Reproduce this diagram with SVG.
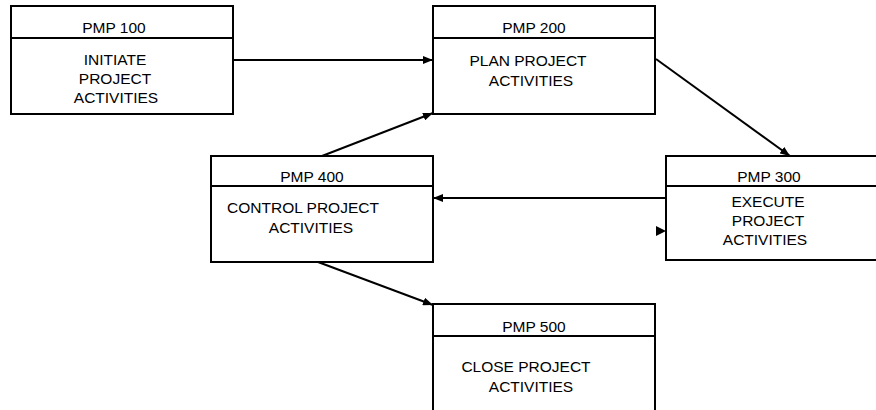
<svg xmlns="http://www.w3.org/2000/svg" width="876" height="410" viewBox="0 0 876 410">
<style>
.box{fill:#fff;stroke:#000;stroke-width:2}
.div{stroke:#000;stroke-width:2}
.t{font-family:"Liberation Sans",Arial,sans-serif;font-size:15.5px;fill:#000;text-anchor:middle}
.c{stroke:#000;stroke-width:2;fill:none}
</style>
<defs>
<marker id="ah" viewBox="0 0 10 8" refX="10" refY="4" markerWidth="10" markerHeight="8" markerUnits="userSpaceOnUse" orient="auto">
<path d="M0,0 L10,4 L0,8 Z" fill="#000"/>
</marker>
</defs>
<rect width="876" height="410" fill="#fff"/>
<g id="pmp100">
<rect class="box" x="11" y="6" width="222" height="108"/>
<line class="div" x1="11" y1="38" x2="233" y2="38"/>
<text class="t" x="114" y="33">PMP 100</text>
<text class="t" x="115" y="65">INITIATE</text>
<text class="t" x="115" y="84">PROJECT</text>
<text class="t" x="116" y="103">ACTIVITIES</text>
</g>
<g id="pmp200">
<rect class="box" x="433" y="6" width="222" height="108"/>
<line class="div" x1="433" y1="38" x2="655" y2="38"/>
<text class="t" x="534" y="33">PMP 200</text>
<text class="t" x="528" y="66">PLAN PROJECT</text>
<text class="t" x="531" y="86">ACTIVITIES</text>
</g>
<g id="pmp300">
<rect class="box" x="666" y="156" width="222" height="104"/>
<line class="div" x1="666" y1="186" x2="888" y2="186"/>
<text class="t" x="769" y="182">PMP 300</text>
<text class="t" x="768" y="207">EXECUTE</text>
<text class="t" x="768" y="226">PROJECT</text>
<text class="t" x="765" y="245">ACTIVITIES</text>
</g>
<g id="pmp400">
<rect class="box" x="211" y="156" width="222" height="106"/>
<line class="div" x1="211" y1="186" x2="433" y2="186"/>
<text class="t" x="312" y="182">PMP 400</text>
<text class="t" x="303" y="213">CONTROL PROJECT</text>
<text class="t" x="311" y="233">ACTIVITIES</text>
</g>
<g id="pmp500">
<rect class="box" x="433" y="304" width="222" height="120"/>
<line class="div" x1="433" y1="336" x2="655" y2="336"/>
<text class="t" x="534" y="332">PMP 500</text>
<text class="t" x="526" y="372">CLOSE PROJECT</text>
<text class="t" x="531" y="392">ACTIVITIES</text>
</g>
<g id="connectors">
<line class="c" x1="233" y1="60" x2="433" y2="60" marker-end="url(#ah)"/>
<line class="c" x1="656" y1="59" x2="790" y2="156" marker-end="url(#ah)"/>
<line class="c" x1="666" y1="198" x2="433" y2="198" marker-end="url(#ah)"/>
<line class="c" x1="322" y1="156" x2="433" y2="113" marker-end="url(#ah)"/>
<line class="c" x1="318" y1="262" x2="433" y2="305" marker-end="url(#ah)"/>
<path d="M656,226 L666,231 L656,236 Z" fill="#000"/>
</g>
</svg>
